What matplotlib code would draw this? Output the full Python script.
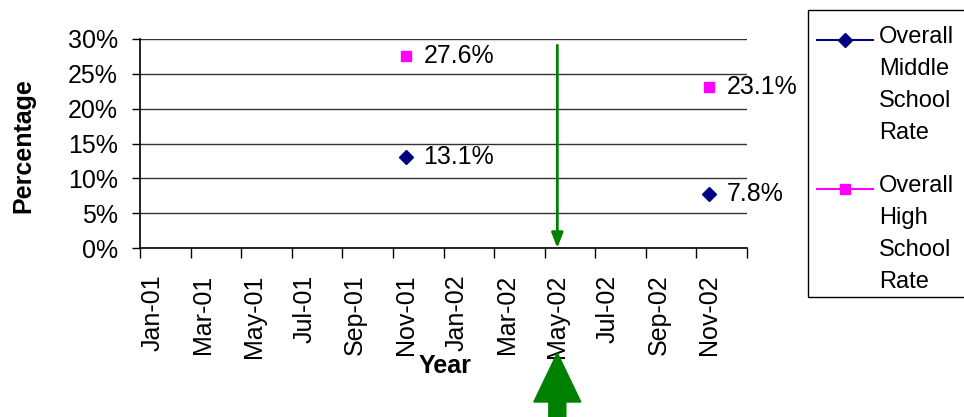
import matplotlib
matplotlib.use("Agg")
import matplotlib.pyplot as plt
import matplotlib.transforms as mtransforms
from matplotlib.patches import FancyArrow, Rectangle
from matplotlib.lines import Line2D
import pandas as pd

plt.rcParams['font.family'] = ['Liberation Sans', 'DejaVu Sans']

# ---- data ----
dates = ["Nov-01", "Nov-02"]
middle_school = [13.1, 7.8]
high_school = [27.6, 23.1]
tick_labels = ["Jan-01", "Mar-01", "May-01", "Jul-01", "Sep-01", "Nov-01",
               "Jan-02", "Mar-02", "May-02", "Jul-02", "Sep-02", "Nov-02"]
highlight_date = "May-02"
series_names = ["Overall\nMiddle\nSchool\nRate", "Overall\nHigh\nSchool\nRate"]
yticks = [0, 5, 10, 15, 20, 25, 30]


def month_center(label):
    d = pd.to_datetime(label, format="%b-%y")
    return (d.year - 2001) * 12 + (d.month - 1) + 0.5


W, H = 964, 417
FS = 18
fig = plt.figure(figsize=(W / 100, H / 100), dpi=100)
ax = fig.add_axes([140 / W, 1 - 248 / H, (747 - 140) / W, (248 - 39) / H])

navy = "#000080"
magenta = "#FF00FF"
green = "#008000"

xm = [month_center(d) for d in dates]
ax.plot(xm, middle_school, linestyle="none", marker="D", color=navy, markersize=7.5, clip_on=False)
ax.plot(xm, high_school, linestyle="none", marker="s", color=magenta, markersize=7.5, clip_on=False)

for x, v in zip(xm, middle_school):
    ax.annotate(f"{v:.1f}%", (x, v), xytext=(13, 0), textcoords="offset points",
                va="center", ha="left", fontsize=FS)
for x, v in zip(xm, high_school):
    ax.annotate(f"{v:.1f}%", (x, v), xytext=(13, 0), textcoords="offset points",
                va="center", ha="left", fontsize=FS)

ax.set_xlim(0, 24)
ax.set_ylim(0, 30)
ax.set_yticks(yticks)
ax.set_yticklabels([f"{t}%" for t in yticks], fontsize=FS)
ax.yaxis.grid(True, color="#333333", linewidth=1)
ax.set_axisbelow(True)

ax.set_xticks(range(0, 25, 2))
ax.set_xticklabels([])
ax.set_xticks([month_center(t) for t in tick_labels], minor=True)
ax.set_xticklabels(tick_labels, minor=True, rotation=90, fontsize=FS)
ax.tick_params(axis="x", which="major", direction="out", length=7, width=1)
ax.tick_params(axis="x", which="minor", length=0, pad=19)
ax.tick_params(axis="y", direction="out", length=6, width=1, pad=10)

for s in ["top", "right"]:
    ax.spines[s].set_visible(False)
for s in ["left", "bottom"]:
    ax.spines[s].set_color("black")
    ax.spines[s].set_linewidth(1.2)

fig.text(23 / W, 1 - 146 / H, "Percentage", rotation=90, fontsize=FS,
         fontweight="bold", ha="center", va="center")
fig.text(445 / W, 1 - 366 / H, "Year", fontsize=FS, fontweight="bold",
         ha="center", va="center")

# thin green arrow pointing down at the highlighted month
hx = month_center(highlight_date)
ax.annotate("", xy=(hx, 0), xytext=(hx, 29.1),
            arrowprops=dict(arrowstyle="-|>,head_length=0.9,head_width=0.35",
                            color=green, lw=2, shrinkA=0, shrinkB=0))

# big block arrow below the axis pointing up
trans = mtransforms.blended_transform_factory(ax.transData, fig.transFigure)
big = FancyArrow(hx, -0.02, 0, (417 - 353) / H + 0.02, width=17 / 25.3,
                 head_width=47 / 25.3, head_length=49 / H,
                 length_includes_head=True, color=green, transform=trans,
                 clip_on=False)
fig.add_artist(big)

# legend drawn manually
ftrans = fig.transFigure
fig.add_artist(Rectangle((808 / W, 1 - 297 / H), (W + 5 - 808) / W, (297 - 10) / H,
                         transform=ftrans, fill=False, edgecolor="black", linewidth=1))
for ypix, col, mk, ms, name in [(40, navy, "D", 7.5, series_names[0]),
                                (189, magenta, "s", 7.5, series_names[1])]:
    fig.add_artist(Line2D([817 / W, 873 / W], [1 - ypix / H] * 2, transform=ftrans,
                          color=col, linewidth=1.5))
    fig.add_artist(Line2D([845 / W], [1 - ypix / H], transform=ftrans, color=col,
                          marker=mk, markersize=ms, linestyle="none"))
    fig.text(879 / W, 1 - (ypix - 14) / H, name, transform=ftrans, fontsize=17,
             va="top", ha="left", linespacing=1.58)

fig.savefig("out.png", dpi=100)
